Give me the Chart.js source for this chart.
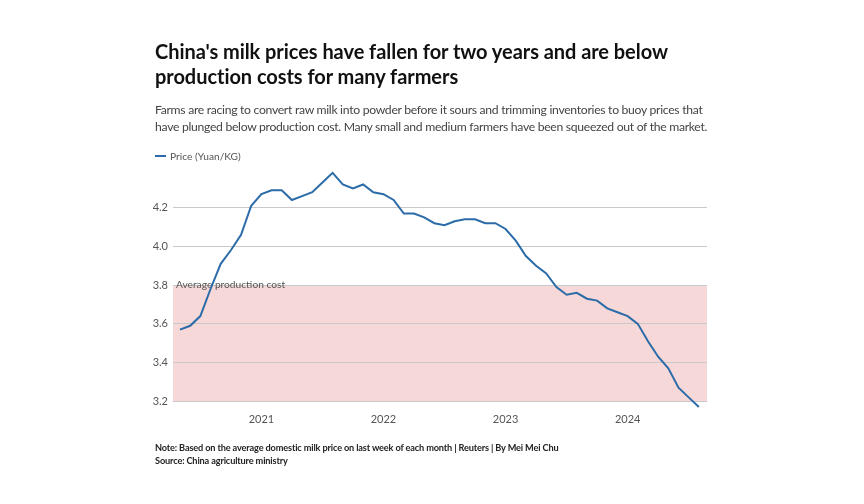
<!DOCTYPE html>
<html>
<head>
<meta charset="utf-8">
<script src="https://cdn.jsdelivr.net/npm/chart.js@4"></script>
<style>
  html, body { margin: 0; padding: 0; background: #fff; }
  body { width: 864px; height: 504px; position: relative; overflow: hidden; font-family: Lato, "Noto Sans", sans-serif; }
  #wrap { position: absolute; left: 0; top: 0; width: 864px; height: 504px; }
  .txt { position: absolute; left: 155px; white-space: nowrap; }
  #title { top: 39px; font-size: 20px; font-weight: 700; line-height: 25px; color: #111; letter-spacing: -0.05px; }
  #sub { top: 102px; font-size: 12.2px; line-height: 16.5px; color: #444; letter-spacing: -0.3px; }
  #legend { top: 150px; font-size: 10.2px; color: #555; }
  #legend span.mk { display: inline-block; width: 11px; height: 2px; background: #2b6ca8; vertical-align: middle; margin-right: 4px; position: relative; top: -1px; }
  #note { top: 441px; font-size: 9.2px; line-height: 13px; color: #222; font-weight: 700; letter-spacing: -0.15px; }
</style>
</head>
<body>
<div id="wrap"><canvas id="graf" width="864" height="504"></canvas></div>
<div class="txt" id="title">China's milk prices have fallen for two years and are below<br>production costs for many farmers</div>
<div class="txt" id="sub">Farms are racing to convert raw milk into powder before it sours and trimming inventories to buoy prices that<br>have plunged below production cost. Many small and medium farmers have been squeezed out of the market.</div>
<div class="txt" id="legend"><span class="mk"></span>Price (Yuan/KG)</div>
<div class="txt" id="note">Note: Based on the average domestic milk price on last week of each month | Reuters | By Mei Mei Chu<br>Source: China agriculture ministry</div>
<script>
// meses (fin de mes), de abril 2020 a julio 2024
const meses = [
  "2020-04","2020-05","2020-06","2020-07","2020-08","2020-09","2020-10","2020-11","2020-12",
  "2021-01","2021-02","2021-03","2021-04","2021-05","2021-06","2021-07","2021-08","2021-09","2021-10","2021-11","2021-12",
  "2022-01","2022-02","2022-03","2022-04","2022-05","2022-06","2022-07","2022-08","2022-09","2022-10","2022-11","2022-12",
  "2023-01","2023-02","2023-03","2023-04","2023-05","2023-06","2023-07","2023-08","2023-09","2023-10","2023-11","2023-12",
  "2024-01","2024-02","2024-03","2024-04","2024-05","2024-06","2024-07"
];
const precios = [
  3.57,3.59,3.64,3.78,3.91,3.98,4.06,4.21,4.27,
  4.29,4.29,4.24,4.26,4.28,4.33,4.38,4.32,4.30,4.32,4.28,4.27,
  4.24,4.17,4.17,4.15,4.12,4.11,4.13,4.14,4.14,4.12,4.12,4.09,
  4.03,3.95,3.90,3.86,3.79,3.75,3.76,3.73,3.72,3.68,3.66,3.64,
  3.60,3.51,3.43,3.37,3.27,3.22,3.17
];
const anios = [2021, 2022, 2023, 2024];
const ticksY = [3.2, 3.4, 3.6, 3.8, 4.0, 4.2];
const costoMin = 3.2;
const costoMax = 3.8;
const costoTexto = "Average production cost";

// fecha "aaaa-mm" -> posicion en anios (fin de mes)
const aX = (m) => {
  const [a, mm] = m.split("-").map(Number);
  return a + mm / 12;
};
const puntos = meses.map((m, i) => ({ x: aX(m), y: precios[i] }));

// banda rosa del costo de produccion
const banda = {
  id: "banda",
  beforeDraw(chart) {
    const { ctx, chartArea, scales } = chart;
    const y1 = scales.y.getPixelForValue(costoMax);
    const y2 = scales.y.getPixelForValue(costoMin);
    ctx.save();
    ctx.fillStyle = "#f7d8d9";
    ctx.fillRect(chartArea.left, y1, chartArea.right - chartArea.left, y2 - y1);
    ctx.restore();
  },
  beforeDatasetsDraw(chart) {
    const { ctx, chartArea, scales } = chart;
    const y1 = scales.y.getPixelForValue(costoMax);
    ctx.save();
    ctx.fillStyle = "#555";
    ctx.font = "10.2px Lato, 'Noto Sans', sans-serif";
    ctx.textBaseline = "middle";
    ctx.fillText(costoTexto, chartArea.left + 3, y1);
    ctx.restore();
  },
};

new Chart(document.getElementById("graf"), {
  type: "line",
  data: {
    datasets: [
      {
        label: "Price (Yuan/KG)",
        data: puntos,
        borderColor: "#2b6ca8",
        borderWidth: 2,
        pointRadius: 0,
        tension: 0,
        clip: false,
      },
    ],
  },
  options: {
    responsive: false,
    animation: false,
    layout: { padding: { left: 153, right: 157, top: 169, bottom: 75 } },
    plugins: { legend: { display: false }, tooltip: { enabled: false } },
    scales: {
      x: {
        type: "linear",
        min: 2020.276,
        max: 2024.65,
        afterBuildTicks: (s) => { s.ticks = anios.map((v) => ({ value: v })); },
        afterFit: (s) => { s.height = 20; },
        grid: { display: false, drawTicks: false },
        border: { display: false },
        ticks: {
          padding: 4,
          color: "#555",
          font: { family: "Lato, 'Noto Sans', sans-serif", size: 11 },
          callback: (v) => String(v),
        },
      },
      y: {
        min: 3.16,
        max: 4.4,
        afterBuildTicks: (s) => { s.ticks = ticksY.map((v) => ({ value: v })); },
        afterFit: (s) => { s.width = 20; },
        grid: { color: "#c9c9c9", lineWidth: 1, drawTicks: false },
        border: { display: false },
        ticks: {
          padding: 5,
          color: "#555",
          font: { family: "Lato, 'Noto Sans', sans-serif", size: 11 },
          callback: (v) => v.toFixed(1),
        },
      },
    },
  },
  plugins: [banda],
});
</script>
</body>
</html>
